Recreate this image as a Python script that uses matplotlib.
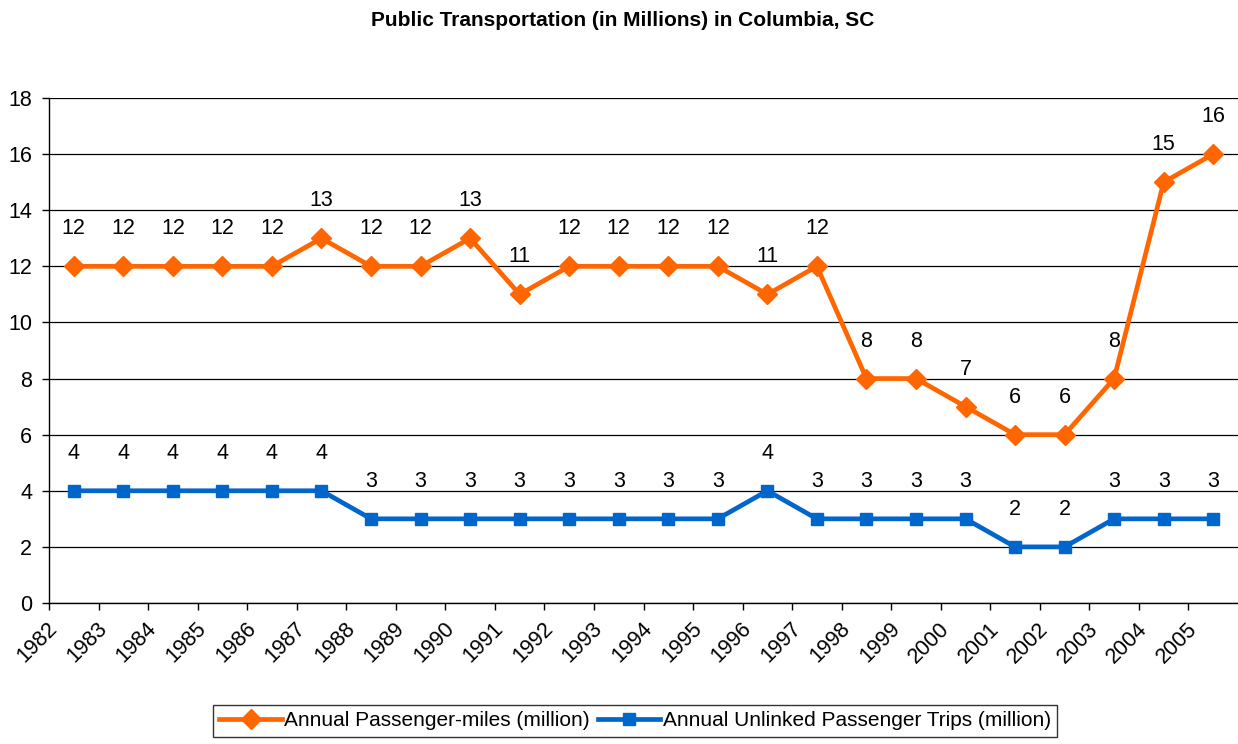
import matplotlib
matplotlib.use("Agg")
import matplotlib.pyplot as plt
import matplotlib.transforms as mtransforms
import numpy as np

plt.rcParams["font.family"] = ["Liberation Sans", "DejaVu Sans"]

years = [str(y) for y in range(1982, 2006)]
passenger_miles = [12, 12, 12, 12, 12, 13, 12, 12, 13, 11, 12, 12,
                   12, 12, 11, 12, 8, 8, 7, 6, 6, 8, 15, 16]
unlinked_trips = [4, 4, 4, 4, 4, 4, 3, 3, 3, 3, 3, 3,
                  3, 3, 4, 3, 3, 3, 3, 2, 2, 3, 3, 3]

ORANGE = "#FF6600"
BLUE = "#0066CC"
FS = 15.5

fig = plt.figure(figsize=(12.38, 7.44), dpi=100)
ax = fig.add_axes([49 / 1238, 1 - 603 / 744, 1 - 49 / 1238, (603 - 98) / 744])

x = np.arange(len(years))
ax.plot(x, passenger_miles, color=ORANGE, linewidth=3.4, marker="D",
        markersize=10, label="Annual Passenger-miles (million)")
ax.plot(x, unlinked_trips, color=BLUE, linewidth=3.4, marker="s",
        markersize=8.5, label="Annual Unlinked Passenger Trips (million)")

for series in (passenger_miles, unlinked_trips):
    for xi, v in zip(x, series):
        ax.annotate(str(v), (xi, v), xytext=(0, 27), textcoords="offset points",
                    ha="center", va="center", fontsize=FS)

ax.set_xlim(-0.5, len(years) - 0.5)
ax.set_ylim(0, 18)
ax.set_yticks(range(0, 19, 2))
ax.tick_params(axis="y", labelsize=FS, length=5, width=1, pad=7)
ax.yaxis.grid(True, color="black", linewidth=0.9)
ax.set_axisbelow(True)

# category boundaries carry the ticks and the year labels
ax.set_xticks(x - 0.5)
ax.set_xticklabels(years, rotation=45, ha="right", va="top", fontsize=FS)
ax.tick_params(axis="x", length=5, width=1, pad=6)
shift = mtransforms.ScaledTranslation(0.13, 0, fig.dpi_scale_trans)
for lbl in ax.get_xticklabels():
    lbl.set_transform(lbl.get_transform() + shift)

for side in ("top", "right"):
    ax.spines[side].set_visible(False)
for side in ("left", "bottom"):
    ax.spines[side].set_linewidth(1)
    ax.spines[side].set_color("black")

fig.suptitle("Public Transportation (in Millions) in Columbia, SC",
             x=0.503, y=1 - 21 / 744, va="center", fontsize=15, fontweight="bold")

leg = fig.legend(loc="upper center", bbox_to_anchor=(635 / 1238, 1 - 705 / 744),
                 ncol=2, fontsize=15, frameon=True, fancybox=False,
                 handlelength=3.0, handletextpad=0.1, columnspacing=0.4,
                 borderpad=0.3, borderaxespad=0)
leg.get_frame().set_edgecolor("black")
leg.get_frame().set_linewidth(1)

fig.savefig("out.png", dpi=100)
